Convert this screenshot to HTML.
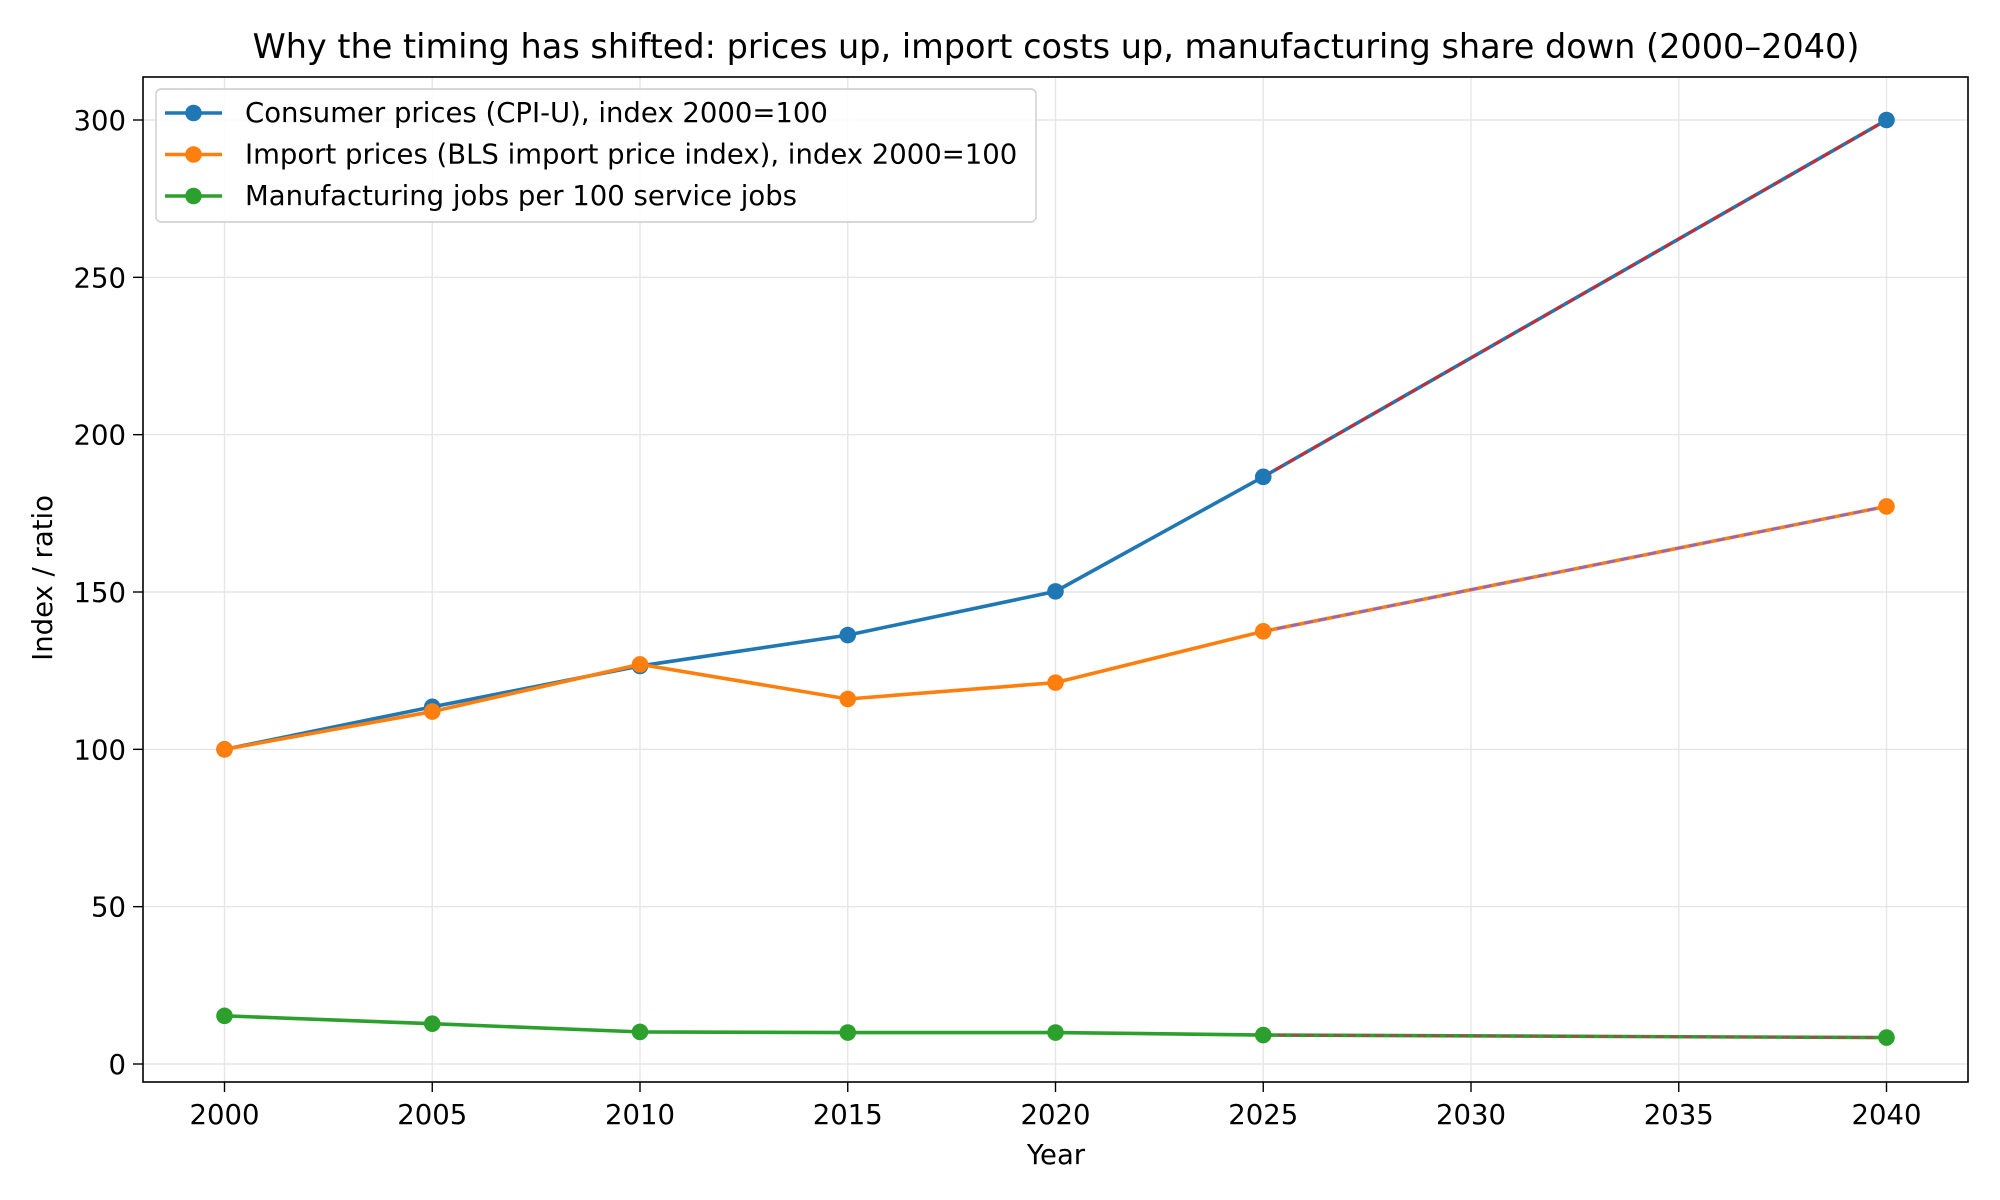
<!DOCTYPE html>
<html><head><meta charset="utf-8"><style>
html,body{margin:0;padding:0;background:#fff;}
svg{display:block;font-family:"DejaVu Sans","Liberation Sans",sans-serif;}
</style></head><body>
<svg id="chart" width="2000" height="1200" viewBox="0 0 2000 1200">
<rect width="2000" height="1200" fill="#fff"/>
<text x="1056" y="58" font-size="33.5" text-anchor="middle" fill="#000">Why the timing has shifted: prices up, import costs up, manufacturing share down (2000–2040)</text>
<g id="grid"></g>
<g id="axes"></g>
<g id="series"></g>
<text x="1056" y="1164" font-size="27.5" text-anchor="middle">Year</text>
<text transform="translate(52,578) rotate(-90)" font-size="27.5" text-anchor="middle">Index / ratio</text>
<g id="legend"></g>
</svg>
<script>
const years = [2000, 2005, 2010, 2015, 2020, 2025, 2040];
const cpi = [100, 113.5, 126.5, 136.3, 150.2, 186.6, 300];
const importPrices = [100, 112, 127, 116, 121.2, 137.5, 177.2];
const mfgRatio = [15.3, 12.8, 10.2, 10, 10, 9.2, 8.4];
const xTicks = [2000, 2005, 2010, 2015, 2020, 2025, 2030, 2035, 2040];
const yTicks = [0, 50, 100, 150, 200, 250, 300];
const seriesNames = ["Consumer prices (CPI-U), index 2000=100", "Import prices (BLS import price index), index 2000=100", "Manufacturing jobs per 100 service jobs"];

const NS = "http://www.w3.org/2000/svg";
const L = 143, R = 1968, T = 77, B = 1082;
const xs = y => 224.5 + (y - 2000) / 40 * (1886.5 - 224.5);
const ys = v => 1064 - v / 300 * (1064 - 120);
function mk(tag, attrs, parent) {
  const e = document.createElementNS(NS, tag);
  for (const k in attrs) e.setAttribute(k, attrs[k]);
  parent.appendChild(e);
  return e;
}
const grid = document.getElementById('grid'), axes = document.getElementById('axes');
xTicks.forEach(t => {
  const g = mk('line', {x1: xs(t), x2: xs(t), y1: T, y2: B, stroke: '#e6e6e6', 'stroke-width': 1.4}, grid);
  
  
  mk('line', {x1: xs(t), x2: xs(t), y1: B, y2: B + 10, stroke: '#000', 'stroke-width': 1.4}, axes);
  const tx = mk('text', {x: xs(t), y: B + 42, 'font-size': 27.5, 'text-anchor': 'middle'}, axes);
  tx.textContent = t;
  
  
});
yTicks.forEach(t => {
  const g = mk('line', {x1: L, x2: R, y1: ys(t), y2: ys(t), stroke: '#e6e6e6', 'stroke-width': 1.4}, grid);
  
  
  mk('line', {x1: L - 10, x2: L, y1: ys(t), y2: ys(t), stroke: '#000', 'stroke-width': 1.4}, axes);
  const tx = mk('text', {x: L - 17, y: ys(t) + 10, 'font-size': 27.5, 'text-anchor': 'end'}, axes);
  tx.textContent = t;
  
  
});
const frame = mk('rect', {x: L, y: T, width: R - L, height: B - T, fill: 'none', stroke: '#000', 'stroke-width': 1.6}, axes);



const sg = document.getElementById('series');
const colors = ['#1f77b4', '#ff7f0e', '#2ca02c'];
const dashColors = ['#d62728', '#9467bd', '#8c564b'];
const names = ['cpi', 'import-prices', 'manufacturing-ratio'];
[cpi, importPrices, mfgRatio].forEach((arr, i) => {
  const pts = arr.map((v, j) => xs(years[j]) + ',' + ys(v)).join(' ');
  const pl = mk('polyline', {points: pts, fill: 'none', stroke: colors[i], 'stroke-width': 3.6}, sg);
  
  
  const n = arr.length;
  const d = mk('line', {x1: xs(years[n - 2]), y1: ys(arr[n - 2]), x2: xs(years[n - 1]), y2: ys(arr[n - 1]), stroke: dashColors[i], 'stroke-width': 2.6, 'stroke-dasharray': '9,5'}, sg);
  
  
  arr.forEach((v, j) => {
    const c = mk('circle', {cx: xs(years[j]), cy: ys(v), r: 8.3, fill: colors[i]}, sg);
    
    
  });
});

const lg = document.getElementById('legend');
const box = mk('rect', {x: 156, y: 89, width: 880, height: 133, rx: 5, fill: '#fff', 'fill-opacity': 0.85, stroke: '#ccc', 'stroke-width': 1.4}, lg);


seriesNames.forEach((nm, i) => {
  const y = 113 + i * 41.5;
  mk('line', {x1: 165, x2: 222, y1: y, y2: y, stroke: colors[i], 'stroke-width': 3.6}, lg);
  mk('circle', {cx: 193.5, cy: y, r: 8.3, fill: colors[i]}, lg);
  const t = mk('text', {x: 245, y: y + 9, 'font-size': 27.5}, lg);
  t.textContent = nm;
  
  
});
</script>
</body></html>
